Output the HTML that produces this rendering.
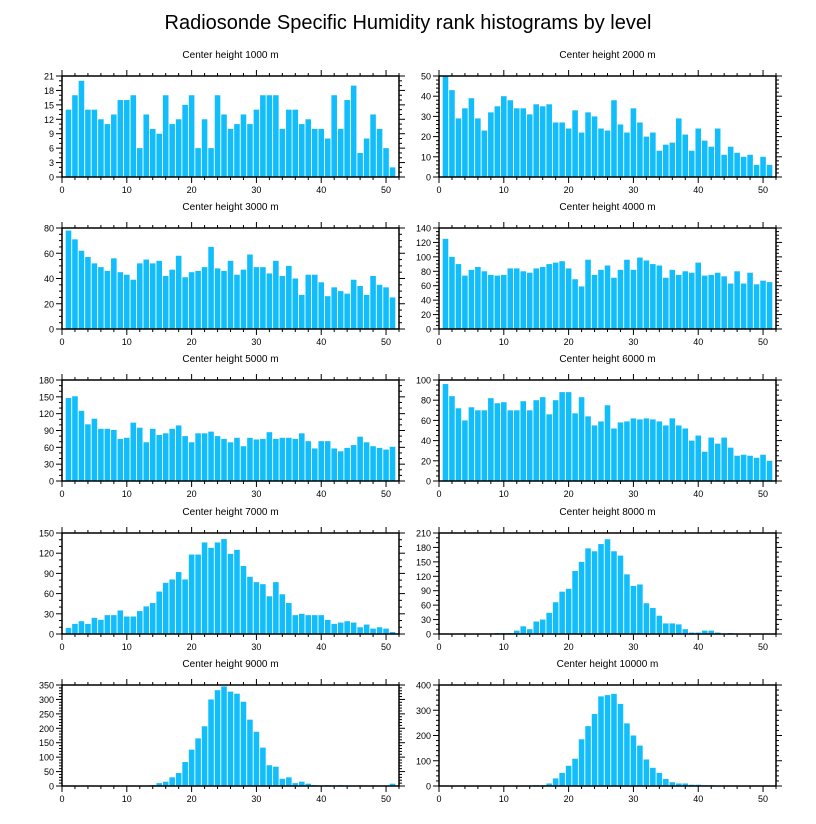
<!DOCTYPE html>
<html><head><meta charset="utf-8"><style>
html,body{margin:0;padding:0;background:#fff;}
svg{display:block;font-family:"Liberation Sans",sans-serif;}
</style></head><body>
<svg id="chart" width="816" height="824">
<text x="408" y="29" text-anchor="middle" font-size="20">Radiosonde Specific Humidity rank histograms by level</text>
</svg>
<script>
const levels = ["1000","2000","3000","4000","5000","6000","7000","8000","9000","10000"];
const yMax = [21,50,80,140,180,100,150,210,350,400];
const yStep = [3,10,20,20,30,20,30,30,50,100];
const yMinor = [1,2,5,5,10,5,10,10,10,20];
const xTicks = [0,10,20,30,40,50];
const v1000 = [14,17,20,14,14,12,11,13,16,16,17,6,13,10,9,17,11,12,15,17,6,12,6,17,13,10,11,13,11,14,17,17,17,10,14,14,11,12,10,10,8,17,10,16,19,5,8,13,10,6,2];
const v2000 = [50,43,29,34,39,29,23,32,35,40,38,34,34,31,36,35,36,27,27,24,33,22,32,30,24,23,38,26,22,34,27,20,22,13,16,17,29,21,13,24,18,15,24,11,15,12,10,11,6,10,6];
const v3000 = [78,71,62,57,52,49,46,56,45,43,39,52,55,52,54,42,47,58,41,45,46,49,65,48,46,54,43,47,59,49,49,44,54,42,50,40,27,43,43,37,26,33,30,28,39,34,27,42,35,33,25];
const v4000 = [125,100,90,74,82,86,80,75,74,75,84,84,80,78,84,86,90,92,94,84,69,59,96,75,82,88,71,82,96,82,99,95,90,88,71,82,75,80,78,92,74,75,78,73,63,80,63,78,62,67,65];
const v5000 = [148,151,125,101,111,93,93,91,75,77,104,95,69,93,82,85,93,99,80,69,85,85,88,80,75,69,77,62,77,74,75,87,75,77,77,75,85,71,58,71,71,58,53,59,64,79,69,62,59,56,61];
const v6000 = [96,84,72,60,73,70,70,82,77,78,70,70,79,70,80,83,66,80,88,88,67,83,64,55,59,75,52,58,59,62,61,62,61,59,55,62,55,52,40,45,29,43,37,43,33,25,26,25,23,26,20];
const v7000 = [9,15,19,15,24,21,28,28,35,26,26,34,41,46,63,76,81,92,81,118,118,136,128,136,141,119,125,101,85,77,74,56,77,59,46,28,30,28,28,28,21,15,17,19,17,10,14,8,10,8,3];
const v8000 = [0,0,0,0,0,0,0,0,2,2,2,7,16,10,26,30,44,66,88,94,131,150,178,172,187,197,172,163,124,100,103,64,54,38,22,22,20,10,3,3,7,7,3,0,2,0,0,0,0,0,0];
const v9000 = [0,0,0,0,0,0,0,0,0,0,2,0,1,3,10,15,30,45,83,126,165,207,300,332,345,327,320,292,230,188,133,72,67,25,30,10,15,8,3,2,3,2,3,2,2,2,2,2,2,2,8];
const v10000 = [0,0,0,0,0,0,0,0,0,0,0,0,1,1,3,3,10,30,52,80,108,185,237,285,355,360,365,325,248,200,160,105,72,52,28,15,10,10,5,5,3,3,2,2,1,1,0,0,0,0,0];
const series = [v1000,v2000,v3000,v4000,v5000,v6000,v7000,v8000,v9000,v10000];

const NS = "http://www.w3.org/2000/svg";
const svg = document.getElementById("chart");
const colL = [62,439], W = 337;
const rowT = [76,228,380,533,685], H = 101;
const X_MAX = 52;

function mk(tag, attrs, parent){
  const e = document.createElementNS(NS, tag);
  for (const k in attrs) e.setAttribute(k, attrs[k]);
  parent.appendChild(e);
  return e;
}

series.forEach((vals, p) => {
  const L = colL[p % 2], T = rowT[Math.floor(p / 2)], B = T + H, R = L + W;
  const xs = x => L + x / X_MAX * W;
  const ys = y => B - y / yMax[p] * H;
  const g = mk("g", {}, svg);
  
  
  const t = mk("text", {x:(L+R)/2, y:T-18, "text-anchor":"middle", "font-size":"10"}, g);
  t.textContent = "Center height " + levels[p] + " m";
  
  
  vals.forEach((v, i) => {
    const x = i + 1, bw = 0.86;
    const r = mk("rect", {x: xs(x - bw/2), y: ys(v), width: xs(x + bw/2) - xs(x - bw/2), height: B - ys(v), fill:"#12bdfb"}, g);
    
    
  });
  // y ticks
  for (let y = 0; y <= yMax[p] + 1e-9; y += yMinor[p]) {
    const major = Math.abs(y / yStep[p] - Math.round(y / yStep[p])) < 1e-6;
    const len = major ? 6 : 3;
    mk("line", {x1:L-len, x2:L, y1:ys(y), y2:ys(y), stroke:"#000", "stroke-width":1}, g);
    mk("line", {x1:R, x2:R+len, y1:ys(y), y2:ys(y), stroke:"#000", "stroke-width":1}, g);
    if (major) {
      const lt = mk("text", {x:L-8, y:ys(y)+3.5, "text-anchor":"end", "font-size":"9"}, g);
      lt.textContent = y;
      
      
    }
  }
  // x ticks
  for (let x = 0; x <= X_MAX; x += 2) {
    const major = x % 10 === 0;
    const len = major ? 6 : 3;
    mk("line", {x1:xs(x), x2:xs(x), y1:B, y2:B+len, stroke:"#000", "stroke-width":1}, g);
    mk("line", {x1:xs(x), x2:xs(x), y1:T-len, y2:T, stroke:"#000", "stroke-width":1}, g);
  }
  xTicks.forEach(x => {
    const lt = mk("text", {x:xs(x), y:B+16, "text-anchor":"middle", "font-size":"9"}, g);
    lt.textContent = x;
    
    
  });
  const f = mk("rect", {x:L, y:T, width:W, height:H, fill:"none", stroke:"#000", "stroke-width":1.5}, g);
  
  
});
</script>
</body></html>
